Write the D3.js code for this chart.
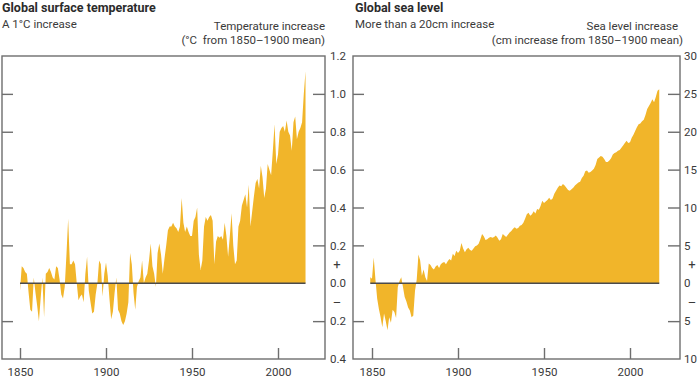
<!DOCTYPE html>
<html>
<head>
<meta charset="utf-8">
<script src="https://cdn.jsdelivr.net/npm/d3@7"></script>
<style>
  body { margin: 0; background: #fff; }
  svg { display: block; font-family: Roboto, "Open Sans", sans-serif; }
  text { fill: #3a3a3a; }
</style>
</head>
<body>
<svg id="chart" width="700" height="379"></svg>
<script>
// annual temperature anomaly, degC vs 1850-1900 mean, 1850..2016
const tempStart = 1850;
const tempValues = [
  -0.04, 0.09, 0.08, 0.06, 0.05, -0.05, -0.14, -0.15, 0.03, -0.05,
  -0.12, -0.20, -0.08, 0.03, -0.18, 0.05, 0.06, 0.08, 0.06, 0.03,
  0.02, 0.09, 0.08, 0.02, -0.06, -0.08, -0.02, 0.15, 0.34, 0.10,
  0.10, 0.12, 0.10, 0.00, -0.09, -0.07, -0.06, -0.10, 0.05, 0.14,
  -0.04, -0.10, -0.16, -0.15, -0.06, 0.00, 0.12, 0.10, -0.07, 0.05,
  0.11, 0.04, -0.08, -0.19, -0.15, -0.05, 0.03, -0.14, -0.16, -0.20,
  -0.22, -0.20, -0.16, -0.10, 0.16, 0.10, -0.05, -0.14, -0.02, 0.01,
  0.03, 0.12, 0.00, 0.03, 0.05, 0.12, 0.21, 0.09, 0.05, -0.02,
  0.16, 0.21, 0.15, 0.05, 0.13, 0.20, 0.28, 0.30, 0.30, 0.32,
  0.30, 0.29, 0.27, 0.30, 0.45, 0.32, 0.27, 0.30, 0.27, 0.25,
  0.25, 0.33, 0.35, 0.40, 0.15, 0.07, 0.12, 0.30, 0.35, 0.33,
  0.35, 0.36, 0.33, 0.10, 0.22, 0.25, 0.24, 0.25, 0.23, 0.32,
  0.25, 0.14, 0.25, 0.37, 0.20, 0.10, 0.12, 0.30, 0.33, 0.41,
  0.44, 0.47, 0.40, 0.52, 0.30, 0.38, 0.46, 0.53, 0.55, 0.50,
  0.62, 0.56, 0.45, 0.50, 0.63, 0.60, 0.57, 0.70, 0.84, 0.63,
  0.68, 0.80, 0.82, 0.83, 0.80, 0.86, 0.80, 0.78, 0.70, 0.85,
  0.88, 0.76, 0.80, 0.82, 0.85, 1.00, 1.12
];

// annual sea level change, cm vs 1850-1900 mean, 1849..2017
const seaStart = 1849;
const seaValues = [
  0.8, 0.6, 3.4, 0.5, -2.0, -3.4, -4.5, -5.8, -4.0, -5.0,
  -6.2, -4.5, -5.2, -3.5, -3.8, -4.6, -0.5, 0.3, 0.8, -0.5,
  -1.8, -2.4, -3.2, -3.6, -4.5, -4.3, -1.0, 0.5, 3.8, 3.0,
  1.0, 1.8, 0.8, 0.3, 2.6, 2.4, 2.0, 1.8, 2.2, 2.4,
  2.0, 2.5, 2.7, 2.8, 2.5, 2.9, 3.2, 3.0, 3.9, 3.6,
  4.3, 4.0, 4.3, 5.3, 4.6, 4.1, 4.5, 4.7, 4.4, 4.3,
  4.6, 4.9, 5.0, 5.2, 5.8, 6.5, 6.2, 5.7, 5.8, 6.0,
  6.1, 6.0, 6.1, 6.3, 6.0, 5.6, 5.8, 6.5, 6.3, 6.1,
  6.4, 6.7, 6.9, 7.2, 7.4, 7.2, 7.3, 7.6, 7.7, 8.0,
  8.5, 9.1, 9.3, 8.9, 9.1, 9.5, 9.2, 9.8, 9.7, 10.2,
  10.9, 10.6, 10.8, 11.0, 11.3, 11.0, 11.2, 11.8, 12.2, 12.6,
  12.9, 12.8, 13.1, 12.9, 12.6, 12.3, 12.2, 12.4, 12.6, 12.9,
  13.1, 13.3, 13.4, 13.9, 14.2, 14.8, 14.9, 14.6, 14.7, 14.9,
  15.1, 15.6, 16.4, 16.6, 16.8, 16.7, 16.4, 16.0, 16.0, 16.2,
  16.5, 17.0, 17.2, 17.3, 17.5, 17.6, 17.9, 18.2, 18.5, 18.8,
  18.5, 18.6, 19.2, 19.6, 20.1, 20.6, 21.0, 21.1, 21.4, 21.6,
  22.2, 23.0, 23.4, 23.8, 24.3, 23.9, 24.6, 25.4, 25.6
];

const xTicks = [1850, 1900, 1950, 2000];
const tempTicks = [1.2, 1.0, 0.8, 0.6, 0.4, 0.2, 0.0, -0.2, -0.4];
const seaTicks = [30, 25, 20, 15, 10, 5, 0, -5, -10];

const fillColor = "#f1b52a";
const frameColor = "#6e6e6e";

const svg = d3.select("#chart");

function drawPanel(opt) {
  const g = svg.append("g");
  const left = opt.left, right = opt.right, top = 56, bottom = 359;

  const x = d3.scaleLinear().domain([1850, 2000]).range(opt.xRange);
  const y = d3.scaleLinear().domain(opt.yDomain).range([bottom, top]);

  const data = opt.values.map((v, i) => ({ year: opt.start + i, v: v }));

  // titles
  g.append("text").attr("x", opt.titleX).attr("y", 12)
    .style("font-size", "12.5px").style("font-weight", "bold").style("fill", "#2b2b2b")
    .text(opt.title);
  g.append("text").attr("x", opt.titleX).attr("y", 28)
    .style("font-size", "11.5px")
    .text(opt.subtitle);
  g.append("text").attr("x", opt.unitX[0]).attr("y", 30)
    .attr("text-anchor", "end").style("font-size", "11.5px")
    .text(opt.unit1);
  g.append("text").attr("x", opt.unitX[1]).attr("y", 44)
    .attr("text-anchor", "end").style("font-size", "11.5px").style("white-space", "pre")
    .text(opt.unit2);

  // area
  const area = d3.area()
    .x(d => x(d.year))
    .y0(y(0))
    .y1(d => y(d.v));
  g.append("path").datum(data)
    .attr("d", area)
    .attr("fill", fillColor);

  // zero line
  g.append("line")
    .attr("x1", x(data[0].year)).attr("x2", x(data[data.length - 1].year))
    .attr("y1", y(0)).attr("y2", y(0))
    .attr("stroke", "#4a4a4a").attr("stroke-width", 1.6);

  // frame
  g.append("rect")
    .attr("x", left).attr("y", top)
    .attr("width", right - left).attr("height", bottom - top)
    .attr("fill", "none").attr("stroke", frameColor).attr("stroke-width", 1.4);

  // right axis: inner ticks + labels outside
  const rAxis = g.append("g").attr("transform", `translate(${right},0)`)
    .call(d3.axisRight(y).tickValues(opt.yTicks).tickSizeInner(-12).tickSizeOuter(0)
      .tickPadding(opt.labelPad).tickFormat(opt.fmt));
  // left axis: inner ticks only
  const lAxis = g.append("g").attr("transform", `translate(${left},0)`)
    .call(d3.axisLeft(y).tickValues(opt.yTicks).tickSizeInner(-11).tickSizeOuter(0)
      .tickFormat(""));
  // bottom axis
  const bAxis = g.append("g").attr("transform", `translate(0,${bottom})`)
    .call(d3.axisBottom(x).tickValues(xTicks).tickSizeInner(-11).tickSizeOuter(0)
      .tickPadding(9).tickFormat(d3.format("d")));

  [rAxis, lAxis, bAxis].forEach(a => {
    a.select(".domain").remove();
    a.selectAll(".tick line").attr("stroke", frameColor).attr("stroke-width", 1.4);
    a.selectAll(".tick text").style("font-size", "11.5px").attr("fill", "#3a3a3a");
    a.attr("font-family", null);
  });
  [rAxis, lAxis].forEach(a => {
    a.selectAll(".tick").filter(d => d === 0 || d === opt.yDomain[0] || d === opt.yDomain[1])
      .select("line").remove();
  });

  // plus / minus signs
  g.append("text").attr("x", right + 12).attr("y", y(opt.signAt)).attr("dy", "0.35em")
    .attr("text-anchor", "middle").style("font-size", "13px").text("+");
  g.append("text").attr("x", right + 12).attr("y", y(-opt.signAt)).attr("dy", "0.35em")
    .attr("text-anchor", "middle").style("font-size", "13px").text("–");
}

drawPanel({
  left: 2, right: 325, xRange: [20, 278],
  yDomain: [-0.4, 1.2], yTicks: tempTicks,
  fmt: d => d3.format(".1f")(Math.abs(d)), labelPad: 5,
  start: tempStart, values: tempValues,
  title: "Global surface temperature", subtitle: "A 1°C increase", titleX: 2,
  unit1: "Temperature increase", unit2: "(°C  from 1850–1900 mean)", unitX: [325, 325],
  signAt: 0.1
});

drawPanel({
  left: 353, right: 680, xRange: [372, 630],
  yDomain: [-10, 30], yTicks: seaTicks,
  fmt: d => String(Math.abs(d)), labelPad: 4,
  start: seaStart, values: seaValues,
  title: "Global sea level", subtitle: "More than a 20cm increase", titleX: 355,
  unit1: "Sea level increase", unit2: "(cm increase from 1850–1900 mean)", unitX: [678, 683],
  signAt: 2.5
});
</script>
</body>
</html>
